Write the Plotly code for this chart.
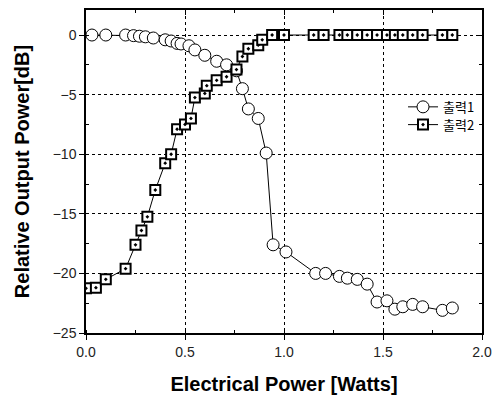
import plotly.graph_objects as go

# 출력1 (circles)
x1 = [0.03, 0.10, 0.20, 0.24, 0.27, 0.30, 0.34, 0.40, 0.43, 0.46, 0.48, 0.52, 0.55, 0.60,
      0.66, 0.71, 0.76, 0.79, 0.82, 0.87, 0.91, 0.945, 1.01, 1.16, 1.21, 1.28, 1.32, 1.37,
      1.42, 1.47, 1.52, 1.56, 1.60, 1.65, 1.70, 1.80, 1.85]
y1 = [0.0, 0.0, 0.0, -0.05, -0.1, -0.15, -0.25, -0.4, -0.5, -0.7, -0.75, -0.9, -1.25, -1.7,
      -2.2, -2.5, -3.0, -4.5, -6.2, -7.0, -9.9, -17.6, -18.2, -20.0, -20.0, -20.25, -20.4, -20.5,
      -20.9, -22.4, -22.3, -23.0, -22.8, -22.6, -22.8, -23.1, -22.9]

# 출력2 (squares)
x2 = [0.0, 0.05, 0.10, 0.20, 0.25, 0.28, 0.31, 0.35, 0.40, 0.43, 0.46, 0.50, 0.53, 0.55,
      0.60, 0.61, 0.66, 0.71, 0.76, 0.79, 0.82, 0.87, 0.89, 0.94, 1.00, 1.15, 1.20, 1.28,
      1.32, 1.37, 1.42, 1.47, 1.52, 1.56, 1.60, 1.65, 1.70, 1.80, 1.85]
y2 = [-21.25, -21.2, -20.5, -19.6, -17.6, -16.4, -15.25, -13.0, -10.75, -10.0, -7.9, -7.5, -7.0, -5.25,
      -4.9, -4.25, -3.8, -3.5, -2.9, -1.8, -1.15, -0.85, -0.4, 0.0, 0.0, 0.0, 0.0, 0.0,
      0.0, 0.0, 0.0, 0.0, 0.0, 0.0, 0.0, 0.0, 0.0, 0.0, 0.0]

series_names = ["출력1", "출력2"]
x_ticks = [0.0, 0.5, 1.0, 1.5, 2.0]
x_ticklabels = ["0.0", "0.5", "1.0", "1.5", "2.0"]
y_ticks = [0, -5, -10, -15, -20, -25]
y_ticklabels = ["0", "−5", "−10", "−15", "−20", "−25"]

fig = go.Figure()
fig.add_trace(go.Scatter(
    x=x1, y=y1, name=series_names[0], mode="lines+markers", legend="legend",
    line=dict(color="black", width=1),
    marker=dict(symbol="circle", size=12, color="white", line=dict(color="black", width=1)),
))
fig.add_trace(go.Scatter(
    x=x2, y=y2, name=series_names[1], mode="lines+markers", legend="legend2",
    line=dict(color="black", width=1),
    marker=dict(symbol="square-dot", size=10, color="white", line=dict(color="black", width=2)),
))
# invisible trace to anchor mirror axes
fig.add_trace(go.Scatter(x=[0], y=[0], xaxis="x2", yaxis="y2", mode="markers",
                         marker=dict(opacity=0), showlegend=False, hoverinfo="skip"))

tickfont = dict(family="Liberation Sans, Arial", size=14, color="#222")
titlefont = dict(family="Liberation Sans, Arial", size=20, color="black")
legfont = dict(family="Noto Sans CJK KR", size=13, color="black")

fig.update_layout(
    width=501, height=401,
    margin=dict(l=86, r=19, t=8, b=68),
    paper_bgcolor="white", plot_bgcolor="white",
    showlegend=True,
    legend=dict(x=0.995, y=0.70, xanchor="right", yanchor="middle",
                bgcolor="rgba(0,0,0,0)", borderwidth=0, font=legfont, itemwidth=30),
    legend2=dict(x=0.995, y=0.645, xanchor="right", yanchor="middle",
                 bgcolor="rgba(0,0,0,0)", borderwidth=0, font=legfont, itemwidth=30),
    xaxis=dict(
        range=[0, 2.0], tickvals=x_ticks, ticktext=x_ticklabels, tickfont=tickfont,
        showline=True, linecolor="black", linewidth=1.5, mirror=True,
        ticks="outside", ticklen=5, tickcolor="black",
        minor=dict(dtick=0.25, ticks="inside", ticklen=3, tickcolor="black", showgrid=False),
        showgrid=True, gridcolor="black", gridwidth=1, griddash="dot",
        zeroline=False,
        title=dict(text="<b>Electrical Power [Watts]</b>", font=titlefont, standoff=18),
    ),
    yaxis=dict(
        range=[-25, 2.1], tickvals=y_ticks, ticktext=y_ticklabels, tickfont=tickfont,
        showline=True, linecolor="black", linewidth=1.5, mirror=True,
        ticks="outside", ticklen=5, tickcolor="black",
        minor=dict(dtick=2.5, ticks="inside", ticklen=3, tickcolor="black", showgrid=False),
        showgrid=True, gridcolor="black", gridwidth=1, griddash="dot",
        zeroline=False,
        title=dict(text="<b>Relative Output Power[dB]</b>", font=titlefont, standoff=18),
    ),
    xaxis2=dict(
        overlaying="x", side="top", range=[0, 2.0], tickvals=x_ticks, showticklabels=False,
        ticks="inside", ticklen=5, tickcolor="black", showgrid=False, zeroline=False,
        minor=dict(dtick=0.25, ticks="inside", ticklen=3, tickcolor="black", showgrid=False),
        anchor="y2",
    ),
    yaxis2=dict(
        overlaying="y", side="right", range=[-25, 2.1], tickvals=y_ticks, showticklabels=False,
        ticks="inside", ticklen=5, tickcolor="black", showgrid=False, zeroline=False,
        minor=dict(dtick=2.5, ticks="inside", ticklen=3, tickcolor="black", showgrid=False),
        anchor="x2",
    ),
)

fig.write_html("out.html", config={"displayModeBar": False},
               post_script="document.body.style.margin='0';")
